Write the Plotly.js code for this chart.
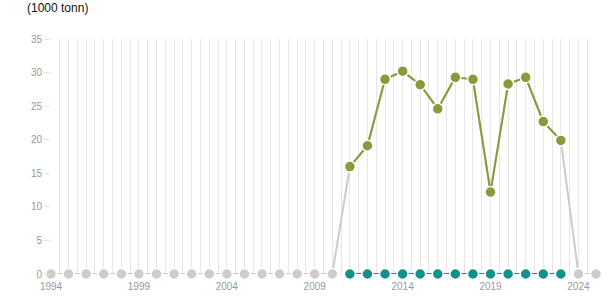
<!DOCTYPE html>
<html>
<head>
<meta charset="utf-8">
<script src="https://cdn.plot.ly/plotly-3.0.1.min.js"></script>
<style>html,body{margin:0;padding:0;background:#fff;}#chart{width:615px;height:305px;}</style>
</head>
<body>
<div id="chart"></div>
<script>
// ---- data ----
const years = [1994,1995,1996,1997,1998,1999,2000,2001,2002,2003,2004,2005,2006,2007,2008,2009,2010,
               2011,2012,2013,2014,2015,2016,2017,2018,2019,2020,2021,2022,2023,2024,2025];
// main series (1000 tonn); null = no data
const production = [null,null,null,null,null,null,null,null,null,null,null,null,null,null,null,null,null,
                    16.0,19.1,29.0,30.2,28.2,24.6,29.3,29.0,12.2,28.3,29.3,22.7,19.9,null,null];
// second series, zero in reported years
const secondSeries = [null,null,null,null,null,null,null,null,null,null,null,null,null,null,null,null,null,
                      0,0,0,0,0,0,0,0,0,0,0,0,0,null,null];
const yTickVals = [0,5,10,15,20,25,30,35];
const xLabelYears = [1994,1999,2004,2009,2014,2019,2024];
const unitLabel = '(1000 tonn)';

// ---- derived ----
const filled = production.map(v => v === null ? 0 : v);
const noDataPts = production.map(v => v === null ? 0 : null);

const GREEN = '#8a9a3b', TEAL = '#11918c', GRAY = '#cccccc';

// half-year vertical gridlines with labels every 5 years
const gridVals = [], gridText = [];
for (let y = years[0]; y <= years[years.length-1] + 1e-9; y += 0.5) {
  gridVals.push(y);
  gridText.push(xLabelYears.includes(y) ? String(y) : '');
}

const MK = 11, ML = 1.5;
const traces = [
  {x: years, y: filled, type: 'scatter', mode: 'lines',
   line: {color: GRAY, width: 2}, hoverinfo: 'skip', cliponaxis: false},
  {x: years, y: noDataPts, type: 'scatter', mode: 'markers',
   marker: {color: GRAY, size: MK, line: {color: '#fff', width: ML}}, cliponaxis: false},
  {x: years, y: secondSeries, type: 'scatter', mode: 'lines+markers',
   line: {color: TEAL, width: 2}, marker: {color: TEAL, size: MK, line: {color: '#fff', width: ML}},
   cliponaxis: false},
  {x: years, y: production, type: 'scatter', mode: 'lines+markers',
   line: {color: GREEN, width: 2}, marker: {color: GREEN, size: MK, line: {color: '#fff', width: ML}},
   cliponaxis: false}
];

const layout = {
  width: 615, height: 305,
  margin: {l: 51, r: 19, t: 39, b: 31, pad: 0},
  paper_bgcolor: '#fff', plot_bgcolor: '#fff',
  showlegend: false,
  font: {family: '"Liberation Sans", Arial, sans-serif', size: 10, color: '#999'},
  title: {text: unitLabel, x: 27/615, xanchor: 'left', xref: 'container',
          y: 1 - 8/305, yanchor: 'middle', yref: 'container',
          font: {size: 12, color: '#111', family: '"Liberation Sans", Arial, sans-serif'}},
  xaxis: {range: [years[0], years[years.length-1]], tickmode: 'array', tickvals: gridVals, ticktext: gridText,
          showgrid: true, gridcolor: '#e6e6e6', gridwidth: 1, zeroline: false, showline: false,
          ticks: '', ticklabelstandoff: 5, tickfont: {size: 10, color: '#999'}, fixedrange: true},
  yaxis: {range: [0, 35], tickmode: 'array', tickvals: yTickVals, showgrid: false, zeroline: false,
          showline: false, ticks: 'outside', ticklen: 6, tickcolor: '#e6e6e6', tickwidth: 1,
          ticklabelstandoff: 0,
          tickfont: {size: 10, color: '#999'}, fixedrange: true}
};

Plotly.newPlot('chart', traces, layout, {displayModeBar: false, staticPlot: true});
</script>
</body>
</html>
